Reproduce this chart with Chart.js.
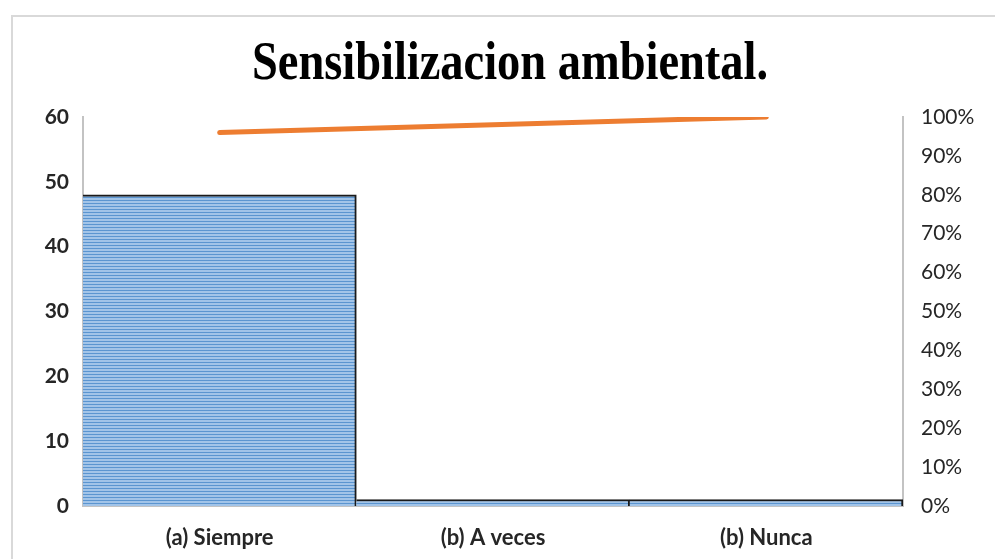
<!DOCTYPE html>
<html>
<head>
<meta charset="utf-8">
<script src="https://cdn.jsdelivr.net/npm/chart.js@4"></script>
<style>
  html, body {
    margin: 0;
    padding: 0;
    background: #ffffff;
    overflow: hidden;
  }
  #frame {
    position: absolute;
    left: 11px;
    top: 15px;
    width: 1000px;
    height: 600px;
    border-top: 2px solid #d9d9d9;
    border-left: 2px solid #d9d9d9;
  }
  #wrap {
    position: absolute;
    left: 0;
    top: 0;
    width: 995px;
    height: 559px;
  }
  #title {
    position: absolute;
    left: 510px;
    top: 61px;
    transform: translate(-50%, -50%) scaleX(0.86);
    font-family: 'Liberation Serif', serif;
    font-weight: bold;
    font-size: 54px;
    color: #000000;
    white-space: nowrap;
    line-height: 1;
  }
</style>
</head>
<body>
<div id="frame"></div>
<div id="wrap"><canvas id="chart"></canvas></div>
<div id="title">Sensibilizacion ambiental.</div>
<script>
const categories = ['(a) Siempre', '(b) A veces', '(b) Nunca'];
const frequencies = [48, 1, 1];
const cumulativePct = [96, 98, 100];
const leftTicks = [0, 10, 20, 30, 40, 50, 60];
const rightTicks = [0, 10, 20, 30, 40, 50, 60, 70, 80, 90, 100];

// Striped fill like the Excel pattern
function makeStripes() {
  const c = document.createElement('canvas');
  c.width = 4;
  c.height = 3;
  const g = c.getContext('2d');
  g.fillStyle = '#a2c4e8';
  g.fillRect(0, 0, 4, 3);
  g.fillStyle = '#5b95d0';
  g.fillRect(0, 2, 4, 1);
  return g.createPattern(c, 'repeat');
}

const ctx = document.getElementById('chart').getContext('2d');

const chart = new Chart(ctx, {
  data: {
    labels: categories,
    datasets: [
      {
        type: 'line',
        data: cumulativePct,
        yAxisID: 'y1',
        borderColor: '#ed7d31',
        borderWidth: 5,
        borderCapStyle: 'round',
        pointRadius: 0,
        tension: 0,
        order: 0,
      },
      {
        type: 'bar',
        data: frequencies,
        yAxisID: 'y',
        backgroundColor: makeStripes(),
        borderColor: '#1a1a1a',
        borderWidth: {top: 2, right: 2, left: 0, bottom: 0},
        borderSkipped: 'bottom',
        barPercentage: 1,
        categoryPercentage: 1,
        order: 1,
      },
    ],
  },
  options: {
    responsive: true,
    maintainAspectRatio: false,
    animation: false,
    layout: {padding: {top: 117}},

    plugins: {
      legend: {display: false},
      tooltip: {enabled: false},
      title: {display: false},
    },

    scales: {
      x: {
        grid: {display: false},
        border: {display: true, color: '#c3c3c3', width: 2},
        ticks: {
          color: '#262626',
          padding: 11,
          font: {family: 'Lato', size: 22, weight: 'bold'},
        },
        afterFit: (scale) => { scale.height = 53; },
      },
      y: {
        position: 'left',
        min: 0,
        max: 60,
        afterBuildTicks: (scale) => {
          scale.ticks = leftTicks.map(v => ({value: v}));
        },
        grid: {display: false},
        border: {display: true, color: '#c3c3c3', width: 2},
        ticks: {
          color: '#262626',
          padding: 6,
          font: {family: 'Lato', size: 21, weight: 'bold'},
        },
        afterFit: (scale) => { scale.width = 83; },
      },
      y1: {
        position: 'right',
        min: 0,
        max: 100,
        afterBuildTicks: (scale) => {
          scale.ticks = rightTicks.map(v => ({value: v}));
        },
        grid: {display: false},
        border: {display: true, color: '#c3c3c3', width: 2},
        ticks: {
          color: '#262626',
          padding: 10,
          font: {family: 'Lato', size: 21},
          callback: (v) => v + '%',
        },
        afterFit: (scale) => { scale.width = 92; },
      },
    },
  },
});
</script>
</body>
</html>
